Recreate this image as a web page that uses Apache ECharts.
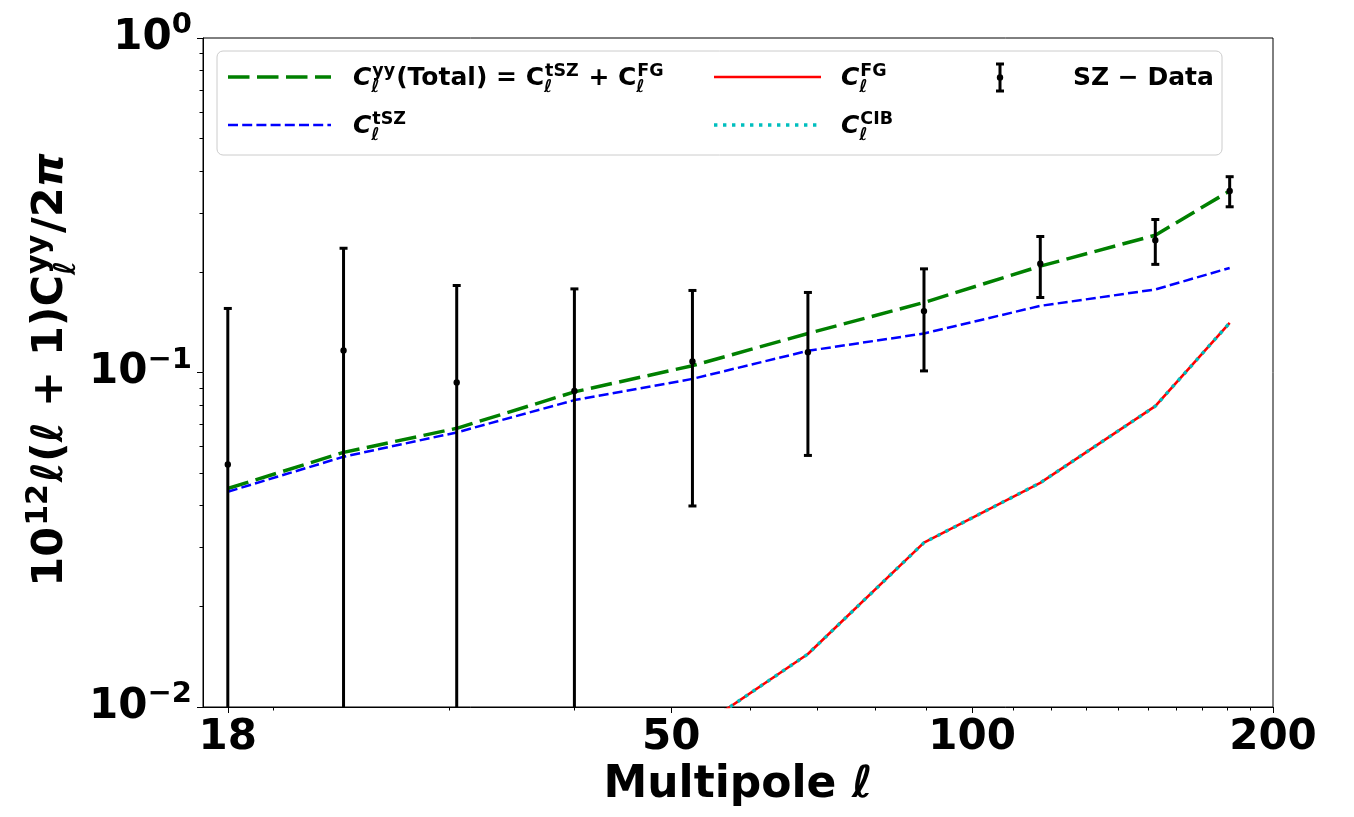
<!DOCTYPE html>
<html>
<head>
<meta charset="utf-8">
<title>Compton-y power spectrum</title>
<script src="https://cdn.jsdelivr.net/npm/echarts@6.0.0/dist/echarts.min.js"></script>
<style>
html, body { margin: 0; padding: 0; background: #ffffff; }
#chartBox { width: 1354px; height: 817px; }
</style>
</head>
<body>
<div id="chartBox"></div>
<script>
// multipole bin centres
var ell = [18, 23.5, 30.5, 40, 52.5, 68.5, 89.5, 117, 152.5, 181];
// model curves, 10^12 l(l+1)C_l/2pi
var clTotal = [0.0450, 0.0577, 0.0681, 0.0875, 0.1048, 0.1308, 0.1619, 0.2079, 0.2573, 0.3489];
var clTSZ   = [0.0440, 0.0560, 0.0662, 0.0827, 0.0957, 0.1161, 0.1308, 0.1582, 0.1771, 0.2054];
var clFG    = [0.0010, 0.0017, 0.0019, 0.0048, 0.0084, 0.0144, 0.0310, 0.0468, 0.0793, 0.1407];
var clCIB   = [0.0010, 0.0017, 0.0019, 0.0048, 0.0084, 0.0144, 0.0310, 0.0468, 0.0793, 0.1407];
// measured points and 1-sigma errors
var szData = [0.0531, 0.1164, 0.0934, 0.0881, 0.1079, 0.1150, 0.1526, 0.2113, 0.2486, 0.3489];
var szErr  = [0.1023, 0.1188, 0.0886, 0.0897, 0.0680, 0.0585, 0.0515, 0.0437, 0.0381, 0.0360];
// ticks
var xTickLabels = [18, 50, 100, 200];
var xMinorTicks = [20, 30, 40, 60, 70, 80, 90, 110, 120, 130, 140, 150, 160, 170, 180, 190];
var yTickLabels = [0.01, 0.1, 1];
var yMinorTicks = [0.02, 0.03, 0.04, 0.05, 0.06, 0.07, 0.08, 0.09, 0.2, 0.3, 0.4, 0.5, 0.6, 0.7, 0.8, 0.9];

(function(){
    var FONT = '"DejaVu Sans", sans-serif',
        _ctx = document.createElement('canvas').getContext('2d'),
        _chart;

    // tiny shallow extend so no jQuery is needed
    function extend(target){
        for(var i = 1; i < arguments.length; i++){
            for(var k in arguments[i]){ target[k] = arguments[i][k]; }
        }
        return target;
    }

    function fontStr(size, italic){
        return (italic ? 'italic ' : '') + 'bold ' + size + 'px ' + FONT;
    }

    function textWidth(str, size, italic){
        _ctx.font = fontStr(size, italic);
        return _ctx.measureText(str).width;
    }

    function mkText(str, x, base, size, italic){
        return {
            type: 'text',
            x: x,
            y: base - 0.3 * size,
            z: 110,
            style: {
                text: str,
                font: fontStr(size, italic),
                fill: '#000000',
                align: 'left',
                verticalAlign: 'middle',
                textAlign: 'left',
                textVerticalAlign: 'middle'
            }
        };
    }

    // lay out a little mathtext-like formula on one baseline (y = 0)
    function buildMath(pieces, size){
        var out = [], x = 0, small = size * 0.7;
        pieces.forEach(function(p){
            if(p.t != null){
                out.push(mkText(p.t, x, 0, size, p.it));
                x += textWidth(p.t, size, p.it);
            }else{
                var w = 0;
                if(p.sup){
                    out.push(mkText(p.sup, x + 1, -0.36 * size, small, false));
                    w = Math.max(w, textWidth(p.sup, small, false) + 1);
                }
                if(p.sub){
                    out.push(mkText(p.sub, x, 0.28 * size, small, true));
                    w = Math.max(w, textWidth(p.sub, small, true));
                }
                x += w + 0.04 * size;
            }
        });
        return {items: out, width: x};
    }

    function mathGroup(pieces, size, x, y){
        var m = buildMath(pieces, size);
        return {type: 'group', x: x, y: y, children: m.items};
    }

    function handleLine(x1, x2, y, color, width, dash){
        return {
            type: 'line',
            z: 110,
            shape: {x1: x1, y1: y, x2: x2, y2: y},
            style: {stroke: color, lineWidth: width, lineDash: dash || null, lineCap: 'butt'}
        };
    }

    function blackLine(x1, y1, x2, y2){
        return {type: 'line', z: 110, shape: {x1: x1, y1: y1, x2: x2, y2: y2}, style: {stroke: '#000', lineWidth: 3}};
    }

    function getGraphic(){
        var LS = 25, r1 = 77, r2 = 125, b1 = 86, b2 = 134;
        var yLabel = buildMath([
            {t: '10'}, {sup: '12'}, {t: 'ℓ', it: 1}, {t: '('}, {t: 'ℓ', it: 1},
            {t: ' + '}, {t: '1)'}, {t: 'C'}, {sup: 'yy', sub: 'ℓ'}, {t: '/2'}, {t: 'π', it: 1}
        ], 43);

        return [
            {
                type: 'rect',
                z: 100,
                shape: {x: 217, y: 51, width: 1005, height: 104, r: 6},
                style: {fill: 'rgba(255,255,255,0.8)', stroke: '#cccccc', lineWidth: 1}
            },
            handleLine(228, 331, r1, '#008000', 3.5, [21.5, 7.5]),
            handleLine(228, 331, r2, '#0000ff', 2.5, [10, 4.2]),
            handleLine(714, 821, r1, '#ff0000', 2.6),
            handleLine(714, 821, r2, '#00bfbf', 3.4, [3.4, 5.6]),
            blackLine(1000, 64, 1000, 91),
            blackLine(996, 64, 1004, 64),
            blackLine(996, 91, 1004, 91),
            {type: 'circle', z: 110, shape: {cx: 1000, cy: 77.5, r: 3.2}, style: {fill: '#000'}},
            mathGroup([{t: 'C', it: 1}, {sup: 'yy', sub: 'ℓ'}, {t: '(Total)'}, {t: ' = '},
                {t: 'C'}, {sup: 'tSZ', sub: 'ℓ'}, {t: ' + '}, {t: 'C'}, {sup: 'FG', sub: 'ℓ'}], LS, 353, b1),
            mathGroup([{t: 'C', it: 1}, {sup: 'tSZ', sub: 'ℓ'}], LS, 353, b2),
            mathGroup([{t: 'C', it: 1}, {sup: 'FG', sub: 'ℓ'}], LS, 841, b1),
            mathGroup([{t: 'C', it: 1}, {sup: 'CIB', sub: 'ℓ'}], LS, 841, b2),
            mathGroup([{t: 'SZ − Data'}], LS, 1073, b1),
            {
                type: 'group',
                x: 64,
                y: 370 + yLabel.width / 2,
                rotation: Math.PI / 2,
                children: yLabel.items
            }
        ];
    }

    function pairs(vals){
        return ell.map(function(l, i){ return [l, vals[i]]; });
    }

    function renderErrorBar(params, api){
        var x = api.value(0), y = api.value(1), e = api.value(2),
            cs = params.coordSys,
            top = cs.y, bottom = cs.y + cs.height,
            pt = api.coord([x, y]),
            hi = api.coord([x, y + e]),
            lowVal = y - e,
            lo = lowVal > 0 ? api.coord([x, lowVal]) : null,
            yHi = Math.max(hi[1], top),
            yLo = lo ? Math.min(lo[1], bottom) : bottom,
            style = {stroke: '#000000', lineWidth: 3},
            children = [];

        children.push({type: 'line', shape: {x1: pt[0], y1: yHi, x2: pt[0], y2: yLo}, style: style});
        if(hi[1] >= top){
            children.push({type: 'line', shape: {x1: pt[0] - 4, y1: hi[1], x2: pt[0] + 4, y2: hi[1]}, style: style});
        }
        if(lo && lo[1] <= bottom){
            children.push({type: 'line', shape: {x1: pt[0] - 4, y1: lo[1], x2: pt[0] + 4, y2: lo[1]}, style: style});
        }
        children.push({type: 'circle', shape: {cx: pt[0], cy: pt[1], r: 3.2}, style: {fill: '#000000'}});
        return {type: 'group', children: children};
    }

    function getParams(){
        var tickFont = {fontSize: 42, fontWeight: 'bold', fontFamily: FONT, color: '#000000'};
        var baseX = {
            type: 'log', logBase: 10, min: 17, max: 200, position: 'bottom',
            splitLine: {show: false}
        };
        var baseY = {
            type: 'log', logBase: 10, min: 0.01, max: 1, position: 'left',
            splitLine: {show: false}
        };
        return {
            animation: false,
            backgroundColor: '#ffffff',
            grid: {
                left: 203, right: 81, top: 38, bottom: 110,
                show: true, borderColor: '#000000', borderWidth: 1,
                containLabel: false, outerBoundsMode: 'none'
            },
            xAxis: [
                extend({}, baseX, {
                    axisLine: {show: true, lineStyle: {color: '#000000', width: 1}},
                    axisTick: {show: true, length: 6, customValues: xTickLabels, lineStyle: {color: '#000000', width: 1}},
                    axisLabel: extend({customValues: xTickLabels, margin: 10, formatter: function(v){ return String(Math.round(v)); }}, tickFont),
                    name: '{a|Multipole }{l|ℓ}',
                    nameLocation: 'middle',
                    nameGap: 57,
                    nameTextStyle: {
                        rich: {
                            a: {fontSize: 44, fontWeight: 'bold', fontFamily: FONT, color: '#000000'},
                            l: {fontSize: 44, fontWeight: 'bold', fontStyle: 'italic', fontFamily: FONT, color: '#000000'}
                        }
                    }
                }),
                extend({}, baseX, {
                    axisLine: {show: false},
                    axisTick: {show: true, length: 3.5, customValues: xMinorTicks, lineStyle: {color: '#000000', width: 1}},
                    axisLabel: {show: false}
                })
            ],
            yAxis: [
                extend({}, baseY, {
                    axisLine: {show: true, lineStyle: {color: '#000000', width: 1}},
                    axisTick: {show: true, length: 6, customValues: yTickLabels, lineStyle: {color: '#000000', width: 1}},
                    axisLabel: {
                        customValues: yTickLabels,
                        margin: 11,
                        formatter: function(v){
                            var p = Math.round(Math.log(v) / Math.LN10);
                            return '{b|10}{s|' + (p < 0 ? '\u2212' + (-p) : p) + '}';
                        },
                        rich: {
                            b: {fontSize: 42, fontWeight: 'bold', fontFamily: FONT, color: '#000000', lineHeight: 54},
                            s: {fontSize: 29, fontWeight: 'bold', fontFamily: FONT, color: '#000000', lineHeight: 29, verticalAlign: 'top'}
                        }
                    }
                }),
                extend({}, baseY, {
                    axisLine: {show: false},
                    axisTick: {show: true, length: 3.5, customValues: yMinorTicks, lineStyle: {color: '#000000', width: 1}},
                    axisLabel: {show: false}
                })
            ],
            series: [
                {
                    name: 'Total', type: 'line', z: 2, symbol: 'none', data: pairs(clTotal),
                    lineStyle: {color: '#008000', width: 3.5, type: [21.5, 7.5], cap: 'butt'}
                },
                {
                    name: 'tSZ', type: 'line', z: 3, symbol: 'none', data: pairs(clTSZ),
                    lineStyle: {color: '#0000ff', width: 2.5, type: [10, 4.2], cap: 'butt'}
                },
                {
                    name: 'FG', type: 'line', z: 4, symbol: 'none', data: pairs(clFG),
                    lineStyle: {color: '#ff0000', width: 2.6}
                },
                {
                    name: 'CIB', type: 'line', z: 5, symbol: 'none', data: pairs(clCIB),
                    lineStyle: {color: '#00bfbf', width: 3.4, type: [3.4, 5.6], cap: 'butt'}
                },
                {
                    name: 'SZ-Data', type: 'custom', z: 6,
                    renderItem: renderErrorBar,
                    encode: {x: 0, y: 1},
                    data: ell.map(function(l, i){ return [l, szData[i], szErr[i]]; })
                }
            ],
            graphic: getGraphic()
        };
    }

    function renderChartBox(){
        _chart = echarts.init(document.getElementById('chartBox'), null, {renderer: 'canvas'});
        _chart.setOption(getParams());
    }

    renderChartBox();
})();
</script>
</body>
</html>
